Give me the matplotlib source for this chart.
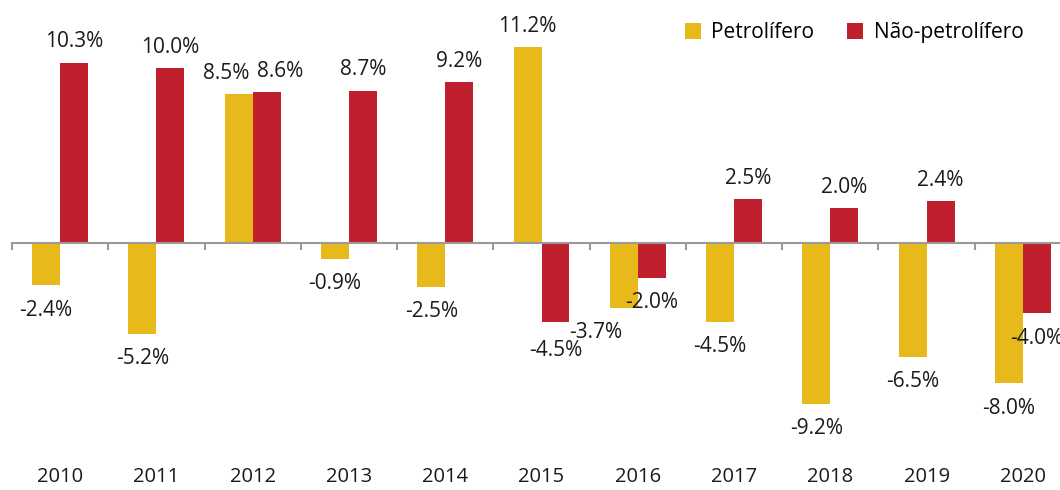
import numpy as np
import matplotlib.pyplot as plt

plt.rcParams['font.family'] = ['Open Sans', 'DejaVu Sans']

years = ['2010', '2011', '2012', '2013', '2014', '2015', '2016', '2017', '2018', '2019', '2020']
petrol = [-2.4, -5.2, 8.5, -0.9, -2.5, 11.2, -3.7, -4.5, -9.2, -6.5, -8.0]
nao_petrol = [10.3, 10.0, 8.6, 8.7, 9.2, -4.5, -2.0, 2.5, 2.0, 2.4, -4.0]

yellow = '#E8B91A'
red = '#C01F2D'

W, H = 1060, 490
fig = plt.figure(figsize=(W / 100, H / 100), dpi=100)
# axes run a little past the right edge, as in the original
ax = fig.add_axes([12 / W, 37 / H, 1059 / W, 420 / H])

x = np.arange(len(years))
bw = 0.29
b1 = ax.bar(x - bw / 2, petrol, bw, color=yellow, label='Petrolífero')
b2 = ax.bar(x + bw / 2, nao_petrol, bw, color=red, label='Não-petrolífero')

ax.set_xlim(-0.5, len(years) - 0.5)
ax.set_ylim(-12, 12)

# value labels (a few nudged to avoid overlaps)
shift = {('p', 6): (-20, 0), ('p', 2): (-9, 0), ('n', 2): (10, 0), ('n', 5): (0, -3)}
for key, bars, vals in [('p', b1, petrol), ('n', b2, nao_petrol)]:
    for i, (b, v) in enumerate(zip(bars, vals)):
        dx, ddy = shift.get((key, i), (0, 0))
        dy = (15 if v >= 0 else -18) + ddy
        ax.annotate(f'{v:.1f}%', (b.get_x() + b.get_width() / 2, v),
                    xytext=(dx, dy), textcoords='offset points',
                    ha='center', va='center', fontsize=15, color='#1a1a1a')

for s in ['top', 'right', 'left']:
    ax.spines[s].set_visible(False)
ax.spines['bottom'].set_position(('data', 0))
ax.spines['bottom'].set_color('#9a9a9a')
ax.spines['bottom'].set_linewidth(1.5)
ax.set_yticks([])

ax.set_xticks(x)
ax.set_xticklabels(years, fontsize=14.5, color='#1a1a1a')
ax.tick_params(axis='x', which='major', length=0, pad=161)
ax.set_xticks(np.arange(len(years) + 1) - 0.5, minor=True)
ax.tick_params(axis='x', which='minor', length=5, width=1.5, color='#9a9a9a')

leg = ax.legend(loc='upper right', bbox_to_anchor=(1030 / 1059, 1.07), ncol=2,
                frameon=False, fontsize=15, handlelength=0.75, handleheight=0.75,
                columnspacing=1.6, handletextpad=0.5)

fig.savefig('out.png', dpi=100)
